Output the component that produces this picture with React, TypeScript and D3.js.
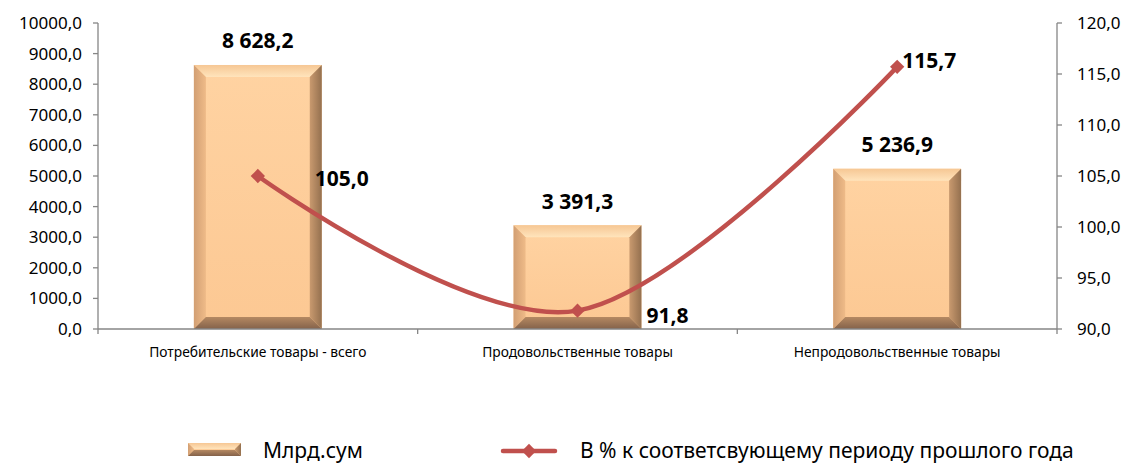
import React from "react";
import * as d3 from "d3";

const categories = ["Потребительские товары - всего", "Продовольственные товары", "Непродовольственные товары"];
const valuesBn = [8628.2, 3391.3, 5236.9];
const valuesPct = [105.0, 91.8, 115.7];
const leftTicks = [0, 1000, 2000, 3000, 4000, 5000, 6000, 7000, 8000, 9000, 10000];
const rightTicks = [90, 95, 100, 105, 110, 115, 120];
const seriesNames = ["Млрд.сум", "В % к соответсвующему периоду прошлого года"];

const W = 1131;
const H = 464;
const plot = { left: 98, right: 1057, top: 23, bottom: 329 };
const FONT = "'Noto Sans', 'Open Sans', sans-serif";
const AXIS = "#868686";
const LINE = "#C0504D";

const fmt1 = (v: number) => v.toFixed(1).replace(".", ",");
const fmtBig = (v: number) => {
  const [i, d] = v.toFixed(1).split(".");
  const withSp = i.replace(/\B(?=(\d{3})+(?!\d))/g, " ");
  return withSp + "," + d;
};

function BevelBar({ x, y, w, h, b, id }: { x: number; y: number; w: number; h: number; b: number; id: string }) {
  const bx = Math.min(b, w / 2);
  const by = Math.min(b, h / 2);
  const x0 = x, x1 = x + w, y0 = y, y1 = y + h;
  return (
    <g>
      <rect x={x0} y={y0} width={w} height={h} fill={`url(#face-${id})`} />
      <polygon points={`${x0},${y0} ${x1},${y0} ${x1 - bx},${y0 + by} ${x0 + bx},${y0 + by}`} fill={`url(#top-${id})`} />
      <polygon points={`${x0},${y0} ${x0 + bx},${y0 + by} ${x0 + bx},${y1 - by} ${x0},${y1}`} fill={`url(#left-${id})`} />
      <polygon points={`${x1},${y0} ${x1 - bx},${y0 + by} ${x1 - bx},${y1 - by} ${x1},${y1}`} fill={`url(#right-${id})`} />
      <polygon points={`${x0},${y1} ${x0 + bx},${y1 - by} ${x1 - bx},${y1 - by} ${x1},${y1}`} fill={`url(#bottom-${id})`} />
    </g>
  );
}

function Grads({ id }: { id: string }) {
  return (
    <>
      <linearGradient id={`face-${id}`} x1="0" y1="0" x2="0" y2="1">
        <stop offset="0" stopColor="#FFD3A2" />
        <stop offset="1" stopColor="#FCC893" />
      </linearGradient>
      <linearGradient id={`top-${id}`} x1="0" y1="0" x2="0" y2="1">
        <stop offset="0" stopColor="#F6C794" />
        <stop offset="1" stopColor="#FFE4BC" />
      </linearGradient>
      <linearGradient id={`left-${id}`} x1="0" y1="0" x2="1" y2="0">
        <stop offset="0" stopColor="#D29F73" />
        <stop offset="1" stopColor="#EFBB88" />
      </linearGradient>
      <linearGradient id={`right-${id}`} x1="0" y1="0" x2="1" y2="0">
        <stop offset="0" stopColor="#C99A6F" />
        <stop offset="1" stopColor="#94704F" />
      </linearGradient>
      <linearGradient id={`bottom-${id}`} x1="0" y1="0" x2="0" y2="1">
        <stop offset="0" stopColor="#B58962" />
        <stop offset="1" stopColor="#84624A" />
      </linearGradient>
    </>
  );
}

export default function App() {
  const x = d3.scaleBand<string>().domain(categories).range([plot.left, plot.right]).padding(0);
  const yL = d3.scaleLinear().domain([0, 10000]).range([plot.bottom, plot.top]);
  const yR = d3.scaleLinear().domain([90, 120]).range([plot.bottom, plot.top]);
  const bw = x.bandwidth() * 0.4;
  const cx = (c: string) => (x(c) as number) + x.bandwidth() / 2;

  const pts: [number, number][] = categories.map((c, i) => [cx(c), yR(valuesPct[i])]);
  const linePath = d3.line().curve(d3.curveCardinal.tension(0))(pts) || "";
  const diamond = d3.symbol().type(d3.symbolDiamond2).size(130)() || "";

  const bounds = [...categories.map((c) => x(c) as number), plot.right];
  const pctLabelOffsets: [number, number][] = [
    [57, 3],
    [69, 5],
    [5, -6],
  ];

  return (
    <svg width={W} height={H} style={{ position: "absolute", left: 0, top: 0, background: "#fff" }} fontFamily={FONT}>
      <defs>
        <Grads id="b" />
      </defs>

      {/* bars */}
      {categories.map((c, i) => (
        <BevelBar key={c} id="b" x={cx(c) - bw / 2} y={yL(valuesBn[i])} w={bw} h={yL(0) - yL(valuesBn[i])} b={12} />
      ))}

      {/* axes */}
      <line x1={plot.left} x2={plot.left} y1={plot.top} y2={plot.bottom} stroke={AXIS} strokeWidth={1.3} />
      <line x1={plot.right} x2={plot.right} y1={plot.top} y2={plot.bottom} stroke={AXIS} strokeWidth={1.3} />
      <line x1={plot.left} x2={plot.right} y1={plot.bottom} y2={plot.bottom} stroke={AXIS} strokeWidth={1.3} />
      {bounds.map((b, i) => (
        <line key={"bt" + i} x1={b} x2={b} y1={plot.bottom} y2={plot.bottom + 5} stroke={AXIS} strokeWidth={1.3} />
      ))}
      {leftTicks.map((t) => (
        <g key={"l" + t}>
          <line x1={plot.left - 5} x2={plot.left} y1={yL(t)} y2={yL(t)} stroke={AXIS} strokeWidth={1.3} />
          <text x={82} y={yL(t)} dy="0.35em" textAnchor="end" fontSize={17} fill="#000">
            {fmt1(t)}
          </text>
        </g>
      ))}
      {rightTicks.map((t) => (
        <g key={"r" + t}>
          <line x1={plot.right} x2={plot.right + 5} y1={yR(t)} y2={yR(t)} stroke={AXIS} strokeWidth={1.3} />
          <text x={1077} y={yR(t)} dy="0.35em" textAnchor="start" fontSize={17} fill="#000">
            {fmt1(t)}
          </text>
        </g>
      ))}
      {categories.map((c) => (
        <text key={"c" + c} x={cx(c)} y={352} dy="0.35em" textAnchor="middle" fontSize={13.8} fill="#000">
          {c}
        </text>
      ))}

      {/* line */}
      <path d={linePath} fill="none" stroke={LINE} strokeWidth={4.5} strokeLinecap="round" />
      {pts.map((p, i) => (
        <path key={"m" + i} d={diamond} transform={`translate(${p[0]},${p[1]})`} fill={LINE} />
      ))}

      {/* bar labels */}
      {categories.map((c, i) => (
        <text key={"vb" + i} x={cx(c)} y={yL(valuesBn[i]) - 24} dy="0.35em" textAnchor="middle" fontSize={21} fontWeight="bold" fill="#000">
          {fmtBig(valuesBn[i])}
        </text>
      ))}
      {pts.map((p, i) => (
        <text key={"vp" + i} x={p[0] + pctLabelOffsets[i][0]} y={p[1] + pctLabelOffsets[i][1]} dy="0.35em" textAnchor="start" fontSize={21} fontWeight="bold" fill="#000">
          {fmt1(valuesPct[i])}
        </text>
      ))}

      {/* legend */}
      <BevelBar id="b" x={188} y={443} w={53} h={13} b={6} />
      <text x={263} y={451} dy="0.35em" fontSize={21} fill="#000">
        {seriesNames[0]}
      </text>
      <line x1={503} x2={555} y1={451} y2={451} stroke={LINE} strokeWidth={4.5} strokeLinecap="round" />
      <path d={diamond} transform={`translate(529,451)`} fill={LINE} />
      <text x={580} y={451} dy="0.35em" fontSize={21} fill="#000">
        {seriesNames[1]}
      </text>
    </svg>
  );
}
